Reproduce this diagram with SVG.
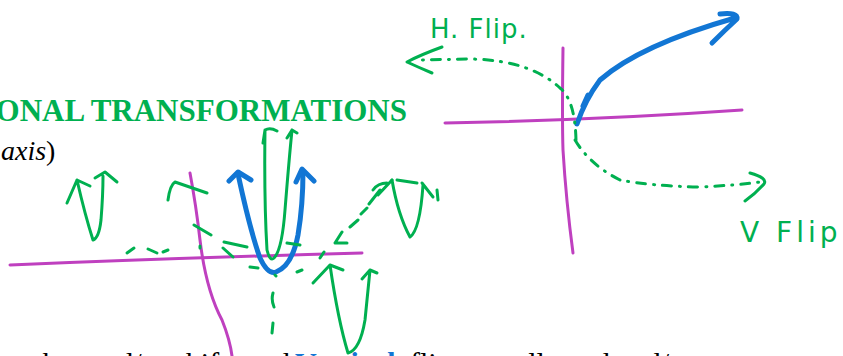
<svg xmlns="http://www.w3.org/2000/svg" width="843" height="356" viewBox="0 0 843 356">
<style>
.g{fill:none;stroke:#00b050;stroke-width:3;stroke-linecap:round;stroke-linejoin:round}
.gd{fill:none;stroke:#00b050;stroke-width:3;stroke-linecap:round;stroke-dasharray:9 8 1 8}
.b{fill:none;stroke:#1276d4;stroke-width:5;stroke-linecap:round;stroke-linejoin:round}
.m{fill:none;stroke:#bf40bf;stroke-width:3;stroke-linecap:round}
.serif{font-family:"Liberation Serif","Times New Roman",serif}
.hand{font-family:"DejaVu Sans","Liberation Sans",sans-serif;fill:#00b050}
</style>
<rect width="843" height="356" fill="#fff"/>
<g id="heading">
<text class="serif" x="407" y="121" text-anchor="end" font-size="31" font-weight="bold" fill="#00b050">ONAL TRANSFORMATIONS</text>
<text class="serif" x="1" y="160" font-size="28" fill="#000"><tspan font-style="italic">axis</tspan>)</text>
</g>
<g id="bottom-text">
<text class="serif" x="290" y="373" text-anchor="end" font-size="30" fill="#000">tal and/or stretches and/or shifts and</text>
<text class="serif" x="295" y="373" font-size="30" font-weight="bold" fill="#1276d4">Vertical</text>
<text class="serif" x="410" y="373" font-size="30" fill="#000">flips are allowed and/or</text>
</g>
<g id="left-axes">
<path class="m" d="M10,265 Q180,258 362,253"/>
<path class="m" d="M190,173 Q196,205 200,240 Q206,290 222,320 Q230,340 232,356"/>
</g>
<g id="left-sketch">
<path class="b" d="M238,174 Q250,230 260,258 Q268,275 276,272 Q292,266 298,235 Q303,205 303,171"/>
<path class="b" d="M229,181 L238,172 L251,180 M296,182 L302,169 L314,181"/>
<path class="g" d="M263,143 L265,130 Q270,127 277,131 M265,130 Q264,200 267,250 Q270,262 274,258 Q282,250 285,210 Q289,160 292,130 M287,138 L292,130 L297,133"/>
<path class="g" d="M67,203 L77,180 L90,186 M77,180 Q85,215 93,240 Q99,238 101,220 Q103,195 103,176 M95,178 L105,172 L117,182"/>
<path class="g" d="M168,200 Q170,185 175,182 L207,193 M194,225 L211,235 M200,246 L200,248 M224,242 L247,247 M223,248 L233,257"/>
<path class="g" d="M127,253 L134,248 M148,249 L157,253 M163,252 L168,250"/>
<path class="g" d="M250,267 L258,268 M275,275 L276,276 M297,272 L302,270 M287,243 L300,245 M273,293 Q271,300 274,307 M273,323 L272,333"/>
<path class="g" d="M320,258 L324,252 M342,232 L335,243 L347,243 M350,227 L358,220 M361,214 L367,208 M369,204 L380,190 M373,190 Q378,183 387,183 M378,195 L392,180"/>
<path class="g" d="M392,180 Q398,215 410,237 Q420,230 423,185 M397,180 L417,183 M422,183 L433,197 M437,190 L438,200"/>
<path class="g" d="M313,283 L330,265 L343,270 M330,265 Q338,320 348,353 Q360,350 365,320 Q368,290 370,270 M362,279 L370,270 L377,273"/>
</g>
<g id="right-axes">
<path class="m" d="M445,123 Q600,120 742,110"/>
<path class="m" d="M563,48 Q562,120 563,150 Q566,200 573,253"/>
</g>
<g id="right-sketch">
<path class="b" d="M577,124 Q585,100 600,80 Q640,45 735,18 M720,14 Q738,12 737,19 Q725,30 712,43 M583,106 L588,95"/>
</g>
<g id="connectors">
<path class="gd" d="M576,140 Q575,100 560,88 Q530,60 470,59 L418,60"/>
<path class="g" d="M442,47 Q420,55 407,62 Q420,68 432,73"/>
<path class="gd" d="M575,140 Q590,165 620,180 Q650,186 700,187 Q740,185 760,182"/>
<path class="g" d="M750,173 Q768,178 764,184 Q755,194 745,201"/>
</g>
<g id="labels">
<text class="hand" x="430" y="38" font-size="26" letter-spacing="1">H. Flip.</text>
<text class="hand" x="740" y="242" font-size="28" letter-spacing="4">V Flip</text>
</g>
</svg>
